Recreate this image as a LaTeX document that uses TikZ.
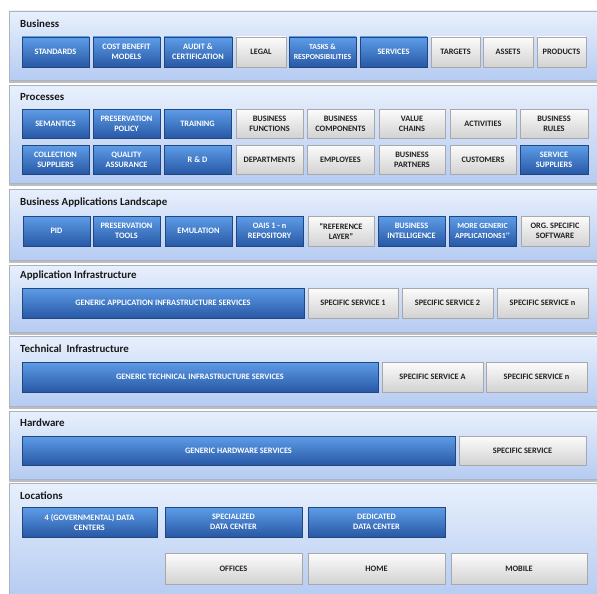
\documentclass[tikz,border=0pt]{standalone}
\usepackage{fontspec}
\setmainfont{Carlito}
\usetikzlibrary{shadows}
\definecolor{bluetop}{HTML}{5E9DE8}
\definecolor{bluebot}{HTML}{2858A5}
\definecolor{blueborder}{HTML}{214783}
\definecolor{whitetop}{HTML}{FCFCFC}
\definecolor{whitebot}{HTML}{D2D2D2}
\definecolor{whiteborder}{HTML}{A8A8A8}
\definecolor{paneltop}{HTML}{E8F0FC}
\definecolor{panelbot}{HTML}{B5CBF2}
\definecolor{panelborder}{HTML}{A9B3C2}
\definecolor{panelshadow}{HTML}{BDBDBD}
\definecolor{textdark}{HTML}{222222}
\tikzset{
  x=1pt, y=-1pt,
  panel/.style={draw=panelborder, line width=0.6pt, top color=paneltop, bottom color=panelbot,
    inner sep=0pt, drop shadow={shadow xshift=0pt, shadow yshift=-3pt, fill=panelshadow, opacity=1}},
  boxbase/.style={line width=0.5pt, align=center, inner sep=0pt,
    font=\fontsize{8.3}{10}\selectfont\bfseries,
    drop shadow={shadow xshift=0.8pt, shadow yshift=-1.4pt, fill=black, opacity=0.5}},
  bluebox/.style={boxbase, draw=blueborder, top color=bluetop, bottom color=bluebot, text=white},
  whitebox/.style={boxbase, draw=whiteborder, top color=whitetop, bottom color=whitebot, text=textdark},
  small/.style={font=\fontsize{7.8}{10}\selectfont\bfseries},
  ptitle/.style={anchor=west, font=\fontsize{10.9}{12}\selectfont\bfseries, text=black!90, inner sep=0pt},
}
\newcommand\archbox[7]{\node[#6, minimum width={(#4-#2)*1pt}, minimum height={(#5-#3)*1pt}] (#1) at ({(#2+#4)/2},{(#3+#5)/2}) {#7};}
\begin{document}
\begin{tikzpicture}
\useasboundingbox[fill=white] (0,0) rectangle (597,594);
% panels
\archbox{pBus}{9}{11}{597}{80}{panel}{}
\archbox{pProc}{9}{85}{597}{183}{panel}{}
\archbox{pBal}{9}{189}{597}{260}{panel}{}
\archbox{pApp}{9}{265}{597}{332}{panel}{}
\archbox{pTech}{9}{336}{597}{406}{panel}{}
\archbox{pHw}{9}{411}{597}{479}{panel}{}
\archbox{pLoc}{9}{483}{597}{597}{panel}{}
% titles
\node[ptitle] (tBus) at (20,24) {Business};
\node[ptitle] (tProc) at (20,97) {Processes};
\node[ptitle] (tBal) at (20,203) {Business Applications Landscape};
\node[ptitle] (tApp) at (20,276) {Application Infrastructure};
\node[ptitle] (tTech) at (20,349) {Technical~ Infrastructure};
\node[ptitle] (tHw) at (20,423) {Hardware};
\node[ptitle] (tLoc) at (20,496) {Locations};
% Business
\archbox{b1}{22}{37}{89}{67}{bluebox}{STANDARDS}
\archbox{b2}{93}{37}{160}{67}{bluebox}{COST BENEFIT\\MODELS}
\archbox{b3}{164}{37}{232}{67}{bluebox}{AUDIT \&\\CERTIFICATION}
\archbox{b4}{236}{37}{286}{67}{whitebox}{LEGAL}
\archbox{b5}{289}{37}{356}{67}{bluebox,small}{TASKS \&\\RESPONSIBILITIES}
\archbox{b6}{360}{37}{427}{67}{bluebox}{SERVICES}
\archbox{b7}{431}{37}{480}{67}{whitebox}{TARGETS}
\archbox{b8}{483}{37}{533}{67}{whitebox}{ASSETS}
\archbox{b9}{537}{37}{586}{67}{whitebox}{PRODUCTS}
% Processes row 1
\archbox{p1}{22}{109}{89}{138}{bluebox}{SEMANTICS}
\archbox{p2}{93}{109}{160}{138}{bluebox}{PRESERVATION\\POLICY}
\archbox{p3}{164}{109}{231}{138}{bluebox}{TRAINING}
\archbox{p4}{236}{109}{303}{138}{whitebox}{BUSINESS\\FUNCTIONS}
\archbox{p5}{307}{109}{374}{138}{whitebox}{BUSINESS\\COMPONENTS}
\archbox{p6}{379}{109}{445}{138}{whitebox}{VALUE\\CHAINS}
\archbox{p7}{450}{109}{516}{138}{whitebox}{ACTIVITIES}
\archbox{p8}{520}{109}{588}{138}{whitebox}{BUSINESS\\RULES}
% Processes row 2
\archbox{q1}{22}{145}{89}{174}{bluebox}{COLLECTION\\SUPPLIERS}
\archbox{q2}{93}{145}{160}{174}{bluebox}{QUALITY\\ASSURANCE}
\archbox{q3}{164}{145}{231}{174}{bluebox}{R \& D}
\archbox{q4}{236}{145}{303}{174}{whitebox}{DEPARTMENTS}
\archbox{q5}{307}{145}{374}{174}{whitebox}{EMPLOYEES}
\archbox{q6}{379}{145}{445}{174}{whitebox}{BUSINESS\\PARTNERS}
\archbox{q7}{450}{145}{516}{174}{whitebox}{CUSTOMERS}
\archbox{q8}{520}{145}{588}{174}{bluebox}{SERVICE\\SUPPLIERS}
% Business applications landscape
\archbox{a1}{23}{216}{90}{246}{bluebox}{PID}
\archbox{a2}{93}{216}{160}{246}{bluebox}{PRESERVATION\\TOOLS}
\archbox{a3}{165}{216}{232}{246}{bluebox}{EMULATION}
\archbox{a4}{236}{216}{303}{246}{bluebox}{OAIS 1 - n\\REPOSITORY}
\archbox{a5}{308}{216}{374}{246}{whitebox}{“REFERENCE\\LAYER”}
\archbox{a6}{378}{216}{445}{246}{bluebox}{BUSINESS\\INTELLIGENCE}
\archbox{a7}{449}{216}{516}{246}{bluebox,small}{MORE GENERIC\\APPLICATIONS1’’}
\archbox{a8}{521}{216}{589}{246}{whitebox}{ORG. SPECIFIC\\SOFTWARE}
% Application infrastructure
\archbox{i1}{22}{288}{304}{318}{bluebox}{GENERIC APPLICATION INFRASTRUCTURE SERVICES}
\archbox{i2}{308}{288}{398}{318}{whitebox}{SPECIFIC SERVICE 1}
\archbox{i3}{402}{288}{493}{318}{whitebox}{SPECIFIC SERVICE 2}
\archbox{i4}{497}{288}{588}{318}{whitebox}{SPECIFIC SERVICE n}
% Technical infrastructure
\archbox{t1}{22}{362}{378}{392}{bluebox}{GENERIC TECHNICAL INFRASTRUCTURE SERVICES}
\archbox{t2}{382}{362}{483}{392}{whitebox}{SPECIFIC SERVICE A}
\archbox{t3}{486}{362}{587}{392}{whitebox}{SPECIFIC SERVICE n}
% Hardware
\archbox{h1}{22}{436}{455}{465}{bluebox}{GENERIC HARDWARE SERVICES}
\archbox{h2}{459}{436}{586}{465}{whitebox}{SPECIFIC SERVICE}
% Locations
\archbox{l1}{22}{507}{157}{537}{bluebox}{4 (GOVERNMENTAL) DATA\\CENTERS}
\archbox{l2}{165}{507}{302}{537}{bluebox}{SPECIALIZED\\DATA CENTER}
\archbox{l3}{308}{507}{445}{537}{bluebox}{DEDICATED\\DATA CENTER}
\archbox{l4}{165}{553}{302}{584}{whitebox}{OFFICES}
\archbox{l5}{308}{553}{445}{584}{whitebox}{HOME}
\archbox{l6}{451}{553}{587}{584}{whitebox}{MOBILE}
\end{tikzpicture}
\end{document}
